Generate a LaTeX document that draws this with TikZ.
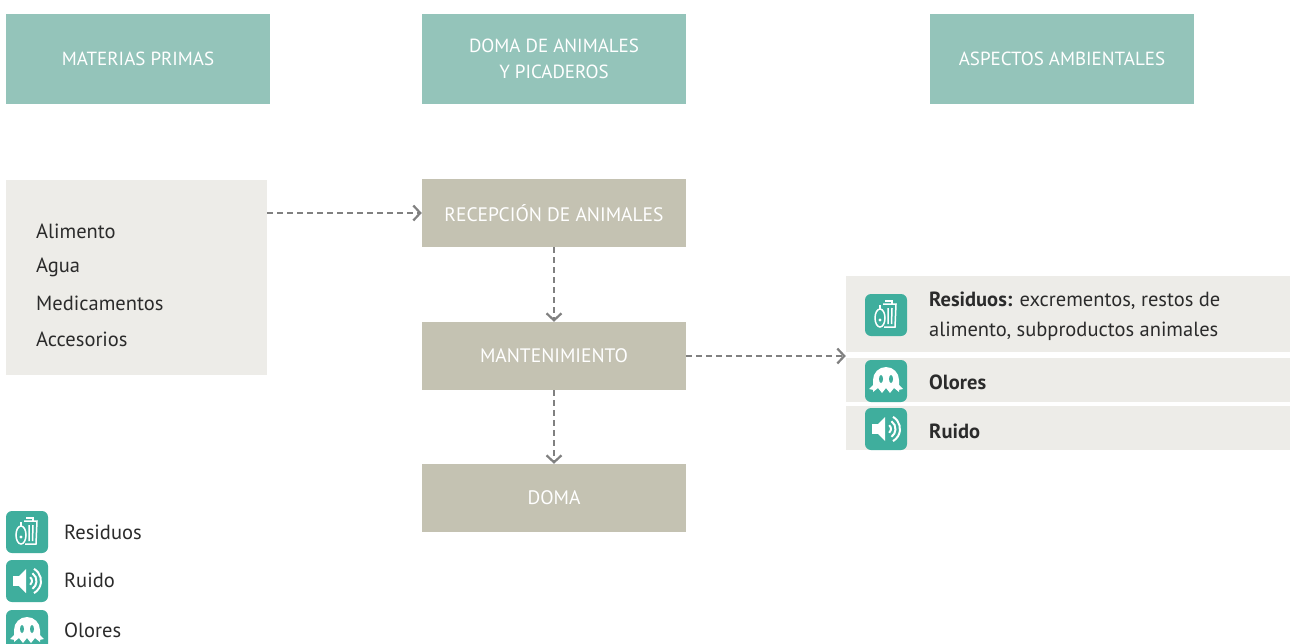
\documentclass[tikz,border=0pt]{standalone}
\usepackage{fontspec}
\setmainfont{PT Sans}
\usetikzlibrary{arrows.meta}
\definecolor{hdr}{HTML}{94C4BA}
\definecolor{proc}{HTML}{C4C2B2}
\definecolor{lite}{HTML}{EDECE8}
\definecolor{icon}{HTML}{3FAE9D}
\definecolor{txt}{HTML}{2B2B2B}
\definecolor{arr}{HTML}{808080}
\tikzset{
  hdrbox/.style={fill=hdr, text=white, minimum width=264pt, minimum height=90pt, align=center, font=\fontsize{19}{26}\selectfont, inner sep=0pt},
  procbox/.style={fill=proc, text=white, minimum width=264pt, minimum height=68pt, font=\fontsize{19.5}{22}\selectfont, inner sep=0pt},
  litebox/.style={fill=lite, inner sep=0pt},
  item/.style={anchor=west, text=txt, font=\fontsize{20.5}{22}\selectfont, inner sep=0pt},
  iconbox/.style={fill=icon, rounded corners=6pt, minimum width=42pt, minimum height=42pt, inner sep=0pt},
  flow/.style={draw=arr, line width=2.2pt, dash pattern=on 6pt off 4pt, -{Straight Barb[length=7pt,width=15pt,line width=2.2pt]}},
  ghost/.pic={
    \fill[white] (-13,11) -- (-13,-1) arc[start angle=180,end angle=360,radius=13] -- (13,11) -- (8,7) -- (4,12) -- (0,7) -- (-4,12) -- (-8,7) -- cycle;
    \fill[white] (-13,4) -- (-17,8) -- (-12,9) -- cycle;
    \fill[white] (13,4) -- (17,8) -- (12,9) -- cycle;
    \fill[icon] (-5,-2) ellipse[x radius=2,y radius=4];
    \fill[icon] (5,-2) ellipse[x radius=2,y radius=4];
  },
  speaker/.pic={
    \fill[white] (-14,-5) rectangle (-8,5);
    \fill[white] (-8,-5) -- (-1,-12) -- (-1,12) -- (-8,5) -- cycle;
    \draw[white, line width=2pt] (0,0) ++(-50:5) arc[start angle=-50,end angle=50,radius=5];
    \draw[white, line width=2pt] (0,0) ++(-55:9.5) arc[start angle=-55,end angle=55,radius=9.5];
    \draw[white, line width=2pt] (0,0) ++(-60:14) arc[start angle=-60,end angle=60,radius=14];
  },
  waste/.pic={
    \draw[white, line width=1.5pt] (-3,-11) -- (10,-11) -- (9,12) -- (-2,12);
    \draw[white, line width=1.5pt] (-1,-14) -- (6,-14) -- (6,-11);
    \draw[white, line width=1.5pt] (2,-7) -- (2,9) (6,-7) -- (5.5,9);
    \draw[white, line width=1.5pt] (-6,3) ellipse[x radius=5,y radius=9];
    \draw[white, line width=1.5pt] (-6,-6) -- (-6,-10);
    \fill[white] (-6,5) circle (1.6);
  }
}
\begin{document}
\begin{tikzpicture}[x=1pt,y=-1pt]
\useasboundingbox (0,0) rectangle (1290,643);
\fill[white] (0,0) rectangle (1290,643);
% headers
\node[hdrbox] (h1) at (138,59) {MATERIAS PRIMAS};
\node[hdrbox] (h2) at (554,59) {DOMA DE ANIMALES\\Y PICADEROS};
\node[hdrbox] (h3) at (1062,59) {ASPECTOS AMBIENTALES};
% materias primas
\node[litebox, minimum width=261pt, minimum height=195pt] (mp) at (136.5,277.5) {};
\node[item] (i1) at (36,231) {Alimento};
\node[item] (i2) at (36,267) {Agua};
\node[item] (i3) at (36,303) {Medicamentos};
\node[item] (i4) at (36,339) {Accesorios};
% process
\node[procbox] (p1) at (554,213) {RECEPCIÓN DE ANIMALES};
\node[procbox] (p2) at (554,356) {MANTENIMIENTO};
\node[procbox] (p3) at (554,498) {DOMA};
% aspects
\node[litebox, minimum width=444pt, minimum height=76pt] (a1) at (1068,314) {};
\node[litebox, minimum width=444pt, minimum height=44pt] (a2) at (1068,380) {};
\node[litebox, minimum width=444pt, minimum height=44pt] (a3) at (1068,428) {};
\node[iconbox] (ia1) at (886,315) {};
\pic at (ia1.center) {waste};
\node[iconbox] (ia2) at (886,381) {};
\pic at (ia2.center) {ghost};
\node[iconbox] (ia3) at (886,429) {};
\pic at (ia3.center) {speaker};
\node[item, align=left, font=\fontsize{20.5}{30}\selectfont] (t1) at (929,316) {\textbf{Residuos:} excrementos, restos de\\alimento, subproductos animales};
\node[item] (t2) at (929,382) {\textbf{Olores}};
\node[item] (t3) at (929,431) {\textbf{Ruido}};
% connectors
\coordinate (mpr) at (267,213);
\draw[flow] (mpr) -- (p1.west);
\draw[flow] (p1.south) -- (p2.north);
\draw[flow] (p2.south) -- (p3.north);
\draw[flow] (p2.east) -- (a1.west |- p2.east);
% legend
\node[iconbox] (l1) at (27,532) {};
\pic at (l1.center) {waste};
\node[iconbox] (l2) at (27,581) {};
\pic at (l2.center) {speaker};
\node[iconbox] (l3) at (27,631) {};
\pic at (l3.center) {ghost};
\node[item] (lt1) at (64,532) {Residuos};
\node[item] (lt2) at (64,580) {Ruido};
\node[item] (lt3) at (64,630) {Olores};
\end{tikzpicture}
\end{document}
